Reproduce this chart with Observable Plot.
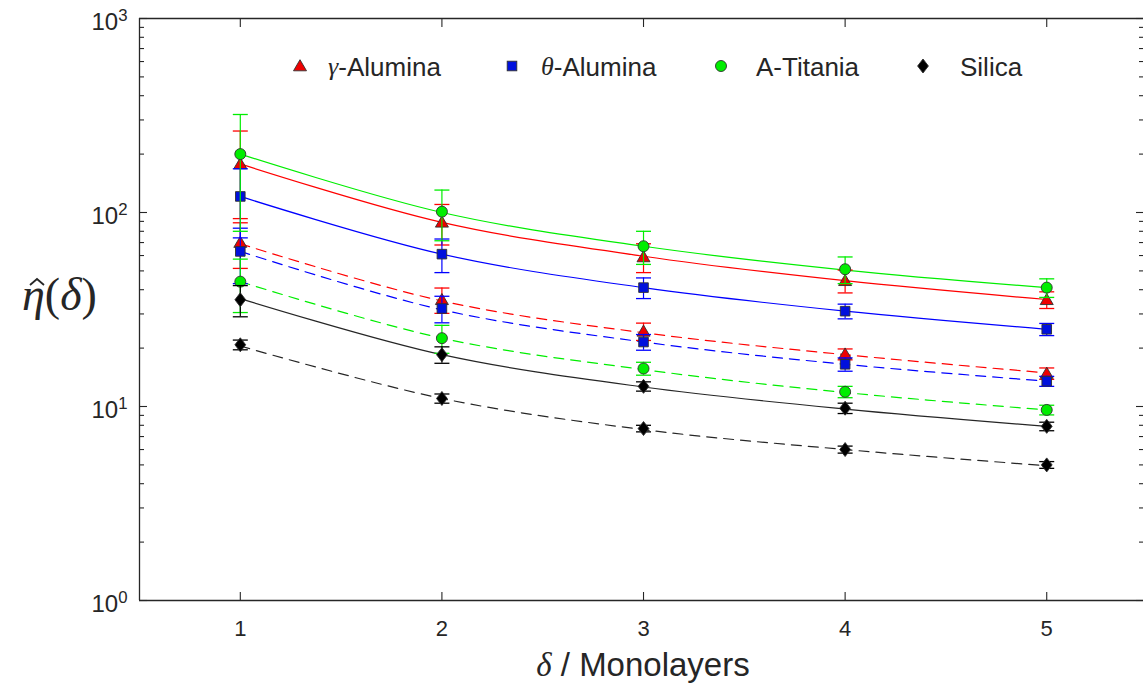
<!DOCTYPE html>
<html>
<head>
<meta charset="utf-8">
<script src="https://cdn.jsdelivr.net/npm/d3@7"></script>
<script src="https://cdn.jsdelivr.net/npm/@observablehq/plot@0.6"></script>
<style>
  html, body { margin: 0; padding: 0; background: #fff; }
  #wrap { position: relative; width: 1143px; height: 693px; font-family: "Liberation Sans", Arial, sans-serif; color: #262626; }
  #legend { position: absolute; top: 50px; left: 0; width: 1143px; height: 34px; }
  .li { position: absolute; top: 0; height: 34px; display: flex; align-items: center; font-size: 26px; color: #262626; white-space: nowrap; }
  .li svg { position: absolute; }
  .m { font-family: "Liberation Serif", "DejaVu Serif", serif; font-style: italic; }
  #ylab { position: absolute; left: 22px; top: 268px; font-family: "Liberation Serif", "DejaVu Serif", serif; font-size: 46px; line-height: 53px; color: #262626; white-space: nowrap; }
  .hatwrap { position: relative; display: inline-block; }
  .hat { position: absolute; left: 6px; top: 9px; }
  #xlab { position: absolute; left: 0; width: 1286px; top: 646px; text-align: center; font-size: 33px; color: #262626; white-space: nowrap; }
</style>
</head>
<body>
<div id="wrap">
  <div id="chart"></div>
  <div id="legend"></div>
  <div id="ylab"><span class="m hatwrap">η<svg class="hat" width="18" height="9"><path d="M2,8 L9,2 L16,8" fill="none" stroke="#262626" stroke-width="1.8"/></svg></span>(<span class="m">δ</span>)</div>
  <div id="xlab"><span class="m">δ</span> / Monolayers</div>
</div>
<script>
// ---------------- data ----------------
const layers = [1, 2, 3, 4, 5];

// gamma-Alumina (solid fit / dashed fit datasets)
const gammaSolidVal = [178, 89, 59, 44.5, 35.5];
const gammaSolidErr = [85, 21, 10, 6, 3.5];
const gammaSolidFit = [178, 89, 59.5, 44.5, 35.6];
const gammaDashVal = [70, 35.5, 24.4, 18.6, 14.8];
const gammaDashErr = [18.5, 5.3, 2.5, 1.2, 1.0];
const gammaDashFit = [69, 35, 24, 18.5, 14.9];

// theta-Alumina
const thetaSolidVal = [121, 61, 41, 31, 25];
const thetaSolidErr = [47, 12, 5, 2.7, 1.8];
const thetaSolidFit = [121, 61, 41, 31, 25];
const thetaDashVal = [63, 32, 21.5, 16.5, 13.5];
const thetaDashErr = [20, 5, 2, 1.3, 0.8];
const thetaDashFit = [63, 31.5, 21.5, 16.5, 13.5];

// A-Titania
const titSolidVal = [200, 101, 67, 51, 41];
const titSolidErr = [120, 29.5, 13, 8, 4.5];
const titSolidFit = [200, 100, 67, 50.5, 41];
const titDashVal = [44, 22.5, 15.7, 11.9, 9.6];
const titDashErr = [13.5, 3.7, 1.2, 0.8, 0.55];
const titDashFit = [44, 22.5, 15.5, 11.8, 9.6];

// Silica
const silSolidVal = [35.5, 18.5, 12.7, 9.8, 7.9];
const silSolidErr = [6.5, 1.8, 0.7, 0.6, 0.4];
const silSolidFit = [36, 18.5, 12.6, 9.7, 7.9];
const silDashVal = [20.8, 11, 7.7, 6.0, 5.0];
const silDashErr = [1.2, 0.6, 0.3, 0.25, 0.2];
const silDashFit = [20.5, 11, 7.6, 6.0, 4.95];

const seriesNames = ["γ-Alumina", "θ-Alumina", "A-Titania", "Silica"];
const xTicks = [1, 2, 3, 4, 5];
const yMajorTicks = [1, 10, 100, 1000];
const yMinorTicks = [2,3,4,5,6,7,8,9,20,30,40,50,60,70,80,90,200,300,400,500,600,700,800,900];

// ---------------- styles ----------------
const lineColor = {g: "#ff0000", t: "#0000ff", a: "#00ee00", s: "#262626"};
const fillColor = {g: "#ee0000", t: "#0010dd", a: "#00ee00", s: "#000000"};

const symTriangle = {draw(c) { c.moveTo(0, -6.3); c.lineTo(6.5, 4.8); c.lineTo(-6.5, 4.8); c.closePath(); }};
const symSquare = {draw(c) { c.rect(-4.8, -4.8, 9.6, 9.6); }};
const symCircle = {draw(c) { c.moveTo(5.5, 0); c.arc(0, 0, 5.5, 0, 2 * Math.PI); c.closePath(); }};
const symDiamond = {draw(c) { c.moveTo(0, -7); c.lineTo(5.4, 0); c.lineTo(0, 7); c.lineTo(-5.4, 0); c.closePath(); }};
const symCap = {draw(c) { c.moveTo(-7.5, 0); c.lineTo(7.5, 0); }};

function rows(vals, errs, fits) {
  return layers.map((x, i) => ({x, y: vals[i], e: errs[i], f: fits[i]}));
}

const groups = [
  {key: "g", sym: symTriangle, solid: rows(gammaSolidVal, gammaSolidErr, gammaSolidFit), dash: rows(gammaDashVal, gammaDashErr, gammaDashFit)},
  {key: "t", sym: symSquare, solid: rows(thetaSolidVal, thetaSolidErr, thetaSolidFit), dash: rows(thetaDashVal, thetaDashErr, thetaDashFit)},
  {key: "a", sym: symCircle, solid: rows(titSolidVal, titSolidErr, titSolidFit), dash: rows(titDashVal, titDashErr, titDashFit)},
  {key: "s", sym: symDiamond, solid: rows(silSolidVal, silSolidErr, silSolidFit), dash: rows(silDashVal, silDashErr, silDashFit)}
];

const marks = [];
// fit curves
for (const g of groups) {
  marks.push(Plot.line(g.solid, {x: "x", y: "f", stroke: lineColor[g.key], strokeWidth: 1.2, curve: "catmull-rom"}));
  marks.push(Plot.line(g.dash, {x: "x", y: "f", stroke: lineColor[g.key], strokeWidth: 1.2, strokeDasharray: "10,7", curve: "catmull-rom"}));
}
// error bars + markers
for (const g of groups) {
  const c = g.key === "s" ? "#000" : lineColor[g.key];
  for (const d of [g.solid, g.dash]) {
    marks.push(Plot.ruleX(d, {x: "x", y1: r => r.y - r.e, y2: r => r.y + r.e, stroke: c, strokeWidth: 1.2}));
    marks.push(Plot.dot(d, {x: "x", y: r => r.y + r.e, symbol: symCap, r: 5, stroke: c, strokeWidth: 1.3, fill: "none"}));
    marks.push(Plot.dot(d, {x: "x", y: r => r.y - r.e, symbol: symCap, r: 5, stroke: c, strokeWidth: 1.3, fill: "none"}));
  }
  for (const d of [g.solid, g.dash]) {
    marks.push(Plot.dot(d, {x: "x", y: "y", symbol: g.sym, r: 5, fill: fillColor[g.key], stroke: "#303030", strokeWidth: 0.9}));
  }
}

const axisColor = "#262626";
// frame (top, bottom, left)
marks.push(Plot.ruleY([1000], {stroke: axisColor, strokeWidth: 1.3}));
marks.push(Plot.ruleY([1], {stroke: axisColor, strokeWidth: 1.3}));
marks.push(Plot.ruleX([0.5], {stroke: axisColor, strokeWidth: 1.3}));
// x ticks (inward), bottom and top
marks.push(Plot.axisX(xTicks, {anchor: "bottom", label: null, tickSize: -8, tickFormat: () => "", stroke: axisColor, strokeWidth: 1.1}));
marks.push(Plot.axisX(xTicks, {anchor: "top", label: null, tickSize: -8, tickFormat: () => "", stroke: axisColor, strokeWidth: 1.1}));
marks.push(Plot.axisX(xTicks, {anchor: "bottom", label: null, tickSize: 0, tickPadding: 20, fontSize: 22, fill: axisColor, tickFormat: d => String(d)}));
// y ticks (inward), left and right
marks.push(Plot.axisY(yMajorTicks, {anchor: "left", label: null, tickSize: -8, tickFormat: () => "", stroke: axisColor, strokeWidth: 1.1}));
marks.push(Plot.axisY(yMinorTicks, {anchor: "left", label: null, tickSize: -5, tickFormat: () => "", stroke: axisColor, strokeWidth: 1.1}));
marks.push(Plot.axisY(yMajorTicks, {anchor: "right", label: null, tickSize: -8, tickFormat: () => "", stroke: axisColor, strokeWidth: 1.1}));
marks.push(Plot.axisY(yMinorTicks, {anchor: "right", label: null, tickSize: -5, tickFormat: () => "", stroke: axisColor, strokeWidth: 1.1}));
marks.push(Plot.axisY(yMajorTicks, {anchor: "left", label: null, tickSize: 0, tickPadding: 12, fontSize: 24, dy: 4, fill: axisColor, tickFormat: d => "10^" + Math.round(Math.log10(d))}));

const chart = Plot.plot({
  width: 1143,
  height: 693,
  marginTop: 18,
  marginBottom: 93,
  marginLeft: 139,
  marginRight: 0,
  style: {fontFamily: "'Liberation Sans', Arial, sans-serif", background: "#fff", overflow: "visible"},
  x: {type: "linear", domain: [0.5, 5.48], label: null},
  y: {type: "log", domain: [1, 1000], label: null},
  marks
});
document.getElementById("chart").appendChild(chart);

// superscript exponents in y tick labels
chart.querySelectorAll("text").forEach(t => {
  const m = /^10\^(-?\d+)$/.exec(t.textContent);
  if (!m) return;
  t.textContent = "";
  const ns = "http://www.w3.org/2000/svg";
  const a = document.createElementNS(ns, "tspan");
  a.textContent = "10";
  const b = document.createElementNS(ns, "tspan");
  b.textContent = m[1];
  b.setAttribute("dy", "-0.55em");
  b.setAttribute("font-size", "0.7em");
  t.appendChild(a); t.appendChild(b);
});

// legend (HTML overlay)
const legendPos = [{mx: 300, tx: 328}, {mx: 512, tx: 541}, {mx: 721, tx: 756}, {mx: 923, tx: 960}];
const legendSym = [
  '<polygon points="0,-6.3 6.5,4.8 -6.5,4.8" fill="#ee0000" stroke="#303030" stroke-width="0.9"/>',
  '<rect x="-4.8" y="-4.8" width="9.6" height="9.6" fill="#0010dd" stroke="#303030" stroke-width="0.9"/>',
  '<circle r="5.5" fill="#00ee00" stroke="#303030" stroke-width="0.9"/>',
  '<polygon points="0,-7 5.4,0 0,7 -5.4,0" fill="#000" stroke="#303030" stroke-width="0.9"/>'
];
const leg = document.getElementById("legend");
seriesNames.forEach((name, i) => {
  const s = document.createElement("div");
  s.className = "li";
  s.style.left = (legendPos[i].mx - 10) + "px";
  s.innerHTML = '<svg width="20" height="34" style="left:0;top:0"><g transform="translate(10,16)">' + legendSym[i] + '</g></svg>';
  leg.appendChild(s);
  const t = document.createElement("div");
  t.className = "li";
  t.style.left = legendPos[i].tx + "px";
  const parts = name.split("-");
  if (i < 2) t.innerHTML = '<span class="m">' + parts[0] + '</span>-' + parts[1];
  else t.textContent = name;
  leg.appendChild(t);
});
</script>
</body>
</html>
